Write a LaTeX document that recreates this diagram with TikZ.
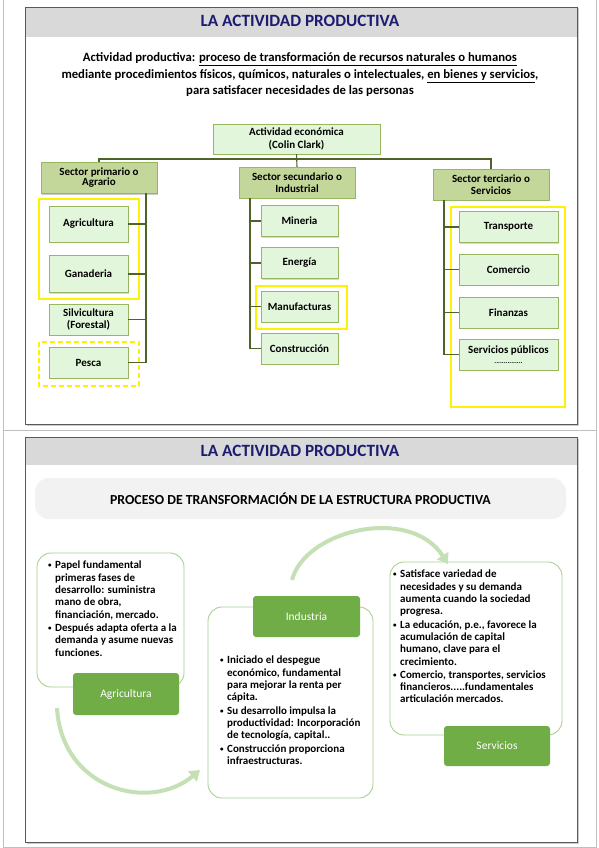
\documentclass[tikz,border=0pt]{standalone}
\usepackage{fontspec}
\setmainfont{Carlito}
\usetikzlibrary{shadows,arrows.meta}

\definecolor{titleblue}{RGB}{28,28,112}
\definecolor{bandgray}{RGB}{217,217,217}
\definecolor{pillgray}{RGB}{242,242,242}
\definecolor{sectorfill}{RGB}{196,215,155}
\definecolor{sectorline}{RGB}{150,182,95}
\definecolor{leaffill}{RGB}{226,246,220}
\definecolor{linkgreen}{RGB}{79,98,40}
\definecolor{boxgreen}{RGB}{112,173,71}
\definecolor{softgreen}{RGB}{169,209,142}
\definecolor{arcgreen}{RGB}{197,224,180}

\newcommand{\bl}{\makebox[7pt][l]{\raisebox{1pt}{\fontsize{7}{8}\selectfont\textbullet}}}
\newcommand{\ind}{\hspace*{7pt}}

\begin{document}
\begin{tikzpicture}
  [x=1pt,y=-1pt,
   every node/.style={inner sep=0pt,align=center,font=\bfseries\fontsize{11}{12.3}\selectfont},
   sector/.style={draw=sectorline,fill=sectorfill,minimum width=116pt,minimum height=31pt,
     drop shadow={shadow xshift=1pt,shadow yshift=-1pt,fill=black!40}},
   leaf/.style={draw=sectorline,fill=leaffill,minimum height=31pt,
     drop shadow={shadow xshift=1pt,shadow yshift=-1pt,fill=black!30}},
   link/.style={draw=linkgreen,line width=1.1pt},
   hl/.style={draw=yellow,line width=1.6pt},
   slide/.style={draw=black!65,line width=0.9pt},
   pageline/.style={draw=black!25,line width=0.8pt},
   textbox/.style={draw=softgreen,fill=white,rounded corners=14pt,line width=0.9pt},
   greenbox/.style={fill=boxgreen,rounded corners=3pt,text=white,
     font=\fontsize{11.5}{13}\selectfont},
   bullets/.style={align=left,anchor=north west,font=\bfseries\fontsize{11}{12.3}\selectfont},
   arc/.style={draw=arcgreen,line width=4pt,-{Triangle[length=10pt,width=13pt]}}]

  \useasboundingbox (0,0) rectangle (599,848);

  % page edges
  \draw[pageline] (3,0) -- (3,847) -- (596,847) -- (596,0);
  \draw[pageline] (3,430) -- (596,430);

  % ---------- slide 1 ----------
  \fill[white,drop shadow={shadow xshift=1.5pt,shadow yshift=-1.5pt,fill=black!40}] (25,7) rectangle (577,424);
  \fill[bandgray] (25,7) rectangle (577,37);
  \draw[slide] (25,7) rectangle (577,424);
  \node[text=titleblue,font=\bfseries\fontsize{17.2}{19}\selectfont] (title1) at (300,21) {LA ACTIVIDAD PRODUCTIVA};

  \node[font=\bfseries\fontsize{12.7}{16.5}\selectfont] (def) at (300,75)
    {Actividad productiva: \underline{proceso de transformación de recursos naturales o humanos}\\
     mediante procedimientos físicos, químicos, naturales o intelectuales, \underline{en bienes y servicios},\\
     para satisfacer necesidades de las personas};

  % highlights
  \draw[hl] (39,199) rectangle (139,299);
  \draw[hl,dashed,dash pattern=on 5pt off 3pt] (39,342) rectangle (139,386);
  \draw[hl] (256,286) rectangle (347,329);
  \draw[hl] (451,207) rectangle (565,407);

  \node[sector,minimum width=167pt,minimum height=30pt,fill=leaffill] (clark) at (296.5,139) {Actividad económica\\(Colin Clark)};
  \node[sector,font=\bfseries\fontsize{11}{10}\selectfont] (prim) at (99,178) {Sector primario o\\Agrario};
  \node[sector] (secu) at (297,182.5) {Sector secundario o\\Industrial};
  \node[sector] (terc) at (491,184.5) {Sector terciario o\\Servicios};

  \node[leaf,minimum width=79pt,minimum height=36pt] (agri) at (88.5,224) {Agricultura};
  \node[leaf,minimum width=79pt,minimum height=37pt] (gana) at (88.5,274) {Ganaderia};
  \node[leaf,minimum width=79pt] (silv) at (88.5,319.5) {Silvicultura\\(Forestal)};
  \node[leaf,minimum width=79pt] (pesca) at (88.5,362.5) {Pesca};

  \node[leaf,minimum width=77pt] (mine) at (299.5,221) {Mineria};
  \node[leaf,minimum width=77pt] (ener) at (299.5,263) {Energía};
  \node[leaf,minimum width=77pt] (manu) at (299.5,306.5) {Manufacturas};
  \node[leaf,minimum width=77pt] (cons) at (299.5,348.5) {Construcción};

  \node[leaf,minimum width=99pt] (trans) at (508.5,227) {Transporte};
  \node[leaf,minimum width=99pt] (come) at (508.5,269.5) {Comercio};
  \node[leaf,minimum width=99pt] (fina) at (508.5,312.5) {Finanzas};
  \node[leaf,minimum width=99pt] (publ) at (508.5,354.5) {Servicios públicos\\[-2pt]{\fontsize{7}{8}\selectfont ...............}};

  \coordinate (hub) at (296.5,159);
  \coordinate (primv) at (146,193);
  \coordinate (secuv) at (250,198);
  \coordinate (tercv) at (444,200);

  \draw[link] (clark.south) -- (secu.north);
  \draw[link] (prim.north) |- (hub) -| (terc.north);
  \draw[link] (primv) -- (pesca.east -| primv);
  \draw[link] (secuv) -- (cons.west -| secuv);
  \draw[link] (tercv) -- (publ.west -| tercv);
  \foreach \leaf in {agri,gana,silv,pesca}
    \draw[link] (\leaf.east) -- (\leaf.east -| primv);
  \foreach \leaf in {mine,ener,manu,cons}
    \draw[link] (\leaf.west) -- (\leaf.west -| secuv);
  \foreach \leaf in {trans,come,fina,publ}
    \draw[link] (\leaf.west) -- (\leaf.west -| tercv);

  % ---------- slide 2 ----------
  \fill[white,drop shadow={shadow xshift=1.5pt,shadow yshift=-1.5pt,fill=black!40}] (25,437) rectangle (577,842);
  \fill[bandgray] (25,437) rectangle (577,465);
  \draw[slide] (25,437) rectangle (577,842);
  \node[text=titleblue,font=\bfseries\fontsize{17.2}{19}\selectfont] (title2) at (300,451) {LA ACTIVIDAD PRODUCTIVA};

  \node[fill=pillgray,rounded corners=14pt,minimum width=531pt,minimum height=41pt,
        font=\bfseries\fontsize{13.8}{15}\selectfont] (proc) at (300.5,498.5)
    {PROCESO DE TRANSFORMACIÓN DE LA ESTRUCTURA PRODUCTIVA};

  \node[textbox,minimum width=147pt,minimum height=134pt] (agritxt) at (110.5,620) {};
  \node[textbox,minimum width=165pt,minimum height=191pt] (inditxt) at (290.5,702.5) {};
  \node[textbox,minimum width=172pt,minimum height=173pt] (servtxt) at (476,648.5) {};

  \node[bullets] (agrilist) at (48,561)
    {\bl Papel fundamental\\ \ind primeras fases de\\ \ind desarrollo: suministra\\ \ind mano de obra,\\
     \ind financiación, mercado.\\[1pt] \bl Después adapta oferta a la\\ \ind demanda y asume nuevas\\ \ind funciones.};
  \node[bullets] (indilist) at (220,656)
    {\bl Iniciado el despegue\\ \ind económico, fundamental\\ \ind para mejorar la renta per\\ \ind cápita.\\[1pt]
     \bl Su desarrollo impulsa la\\ \ind productividad: Incorporación\\ \ind de tecnología, capital..\\[1pt]
     \bl Construcción proporciona\\ \ind infraestructuras.};
  \node[bullets] (servlist) at (393,570)
    {\bl Satisface variedad de\\ \ind necesidades y su demanda\\ \ind aumenta cuando la sociedad\\ \ind progresa.\\[1pt]
     \bl La educación, p.e., favorece la\\ \ind acumulación de capital\\ \ind humano, clave para el\\ \ind crecimiento.\\[1pt]
     \bl Comercio, transportes, servicios\\ \ind financieros.....fundamentales\\ \ind articulación mercados.};

  \node[greenbox,minimum width=106pt,minimum height=42pt] (agribox) at (126,694) {Agricultura};
  \node[greenbox,minimum width=107pt,minimum height=41pt] (indibox) at (306.5,616.5) {Industria};
  \node[greenbox,minimum width=106pt,minimum height=40pt] (servbox) at (497,746) {Servicios};

  \coordinate (a1s) at (57,708);
  \coordinate (a1e) at (200,770);
  \coordinate (a2s) at (292,580);
  \coordinate (a2e) at (448,564);
  \draw[arc] (a1s) .. controls (62,790) and (150,812) .. (a1e);
  \draw[arc] (a2s) .. controls (305,530) and (410,505) .. (a2e);

\end{tikzpicture}
\end{document}
